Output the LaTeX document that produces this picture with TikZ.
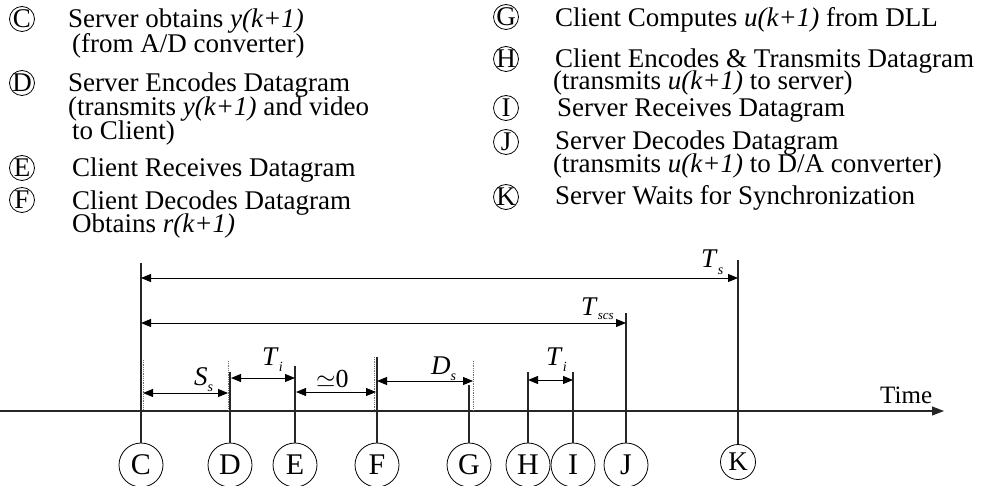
\documentclass[tikz,border=0pt]{standalone}
\usepackage{fontspec}
\setmainfont{Liberation Serif}
\usetikzlibrary{arrows.meta}
\newcommand{\sublab}[2]{\textit{#1}\raisebox{-6pt}{\fontsize{14}{14}\selectfont\textit{#2}}}
\begin{document}
\begin{tikzpicture}[x=1pt,y=-1pt,
  leg/.style={font=\fontsize{27}{27}\selectfont, anchor=base west, inner sep=0},
  lc/.style={draw, circle, minimum size=25pt, inner sep=-1pt, line width=0.8pt, font=\fontsize{27}{27}\selectfont},
  bc/.style={draw, circle, minimum size=44pt, inner sep=0, line width=0.8pt, font=\fontsize{30}{30}\selectfont},
  ln/.style={line width=1.1pt, black!85},
  dt/.style={line width=0.8pt, black!55, densely dotted},
  dimarr/.style={line width=1pt, {Triangle[length=10pt,width=8pt]}-{Triangle[length=10pt,width=8pt]}},
  lbl/.style={font=\fontsize{27}{27}\selectfont, anchor=base west, inner sep=0}
]
\useasboundingbox (0,0) rectangle (995,486);

% ---------- legend, left column
\node[lc] (lC) at (22,19) {C};
\node[leg] (tC1) at (68,28) {Server obtains \textit{y(k+1)}};
\node[leg] (tC2) at (72,53) {(from A/D converter)};
\node[lc] (lD) at (22,83) {D};
\node[leg] (tD1) at (68,92) {Server Encodes Datagram};
\node[leg] (tD2) at (68,116) {(transmits \textit{y(k+1)} and video};
\node[leg] (tD3) at (72,140) {to Client)};
\node[lc] (lE) at (22,168) {E};
\node[leg] (tE1) at (72,177) {Client Receives Datagram};
\node[lc] (lF) at (22,200) {F};
\node[leg] (tF1) at (72,210) {Client Decodes Datagram};
\node[leg] (tF2) at (72,233) {Obtains \textit{r(k+1)}};

% ---------- legend, right column
\node[lc] (lG) at (506,17) {G};
\node[leg] (tG1) at (555,27) {Client Computes \textit{u(k+1)} from DLL};
\node[lc] (lH) at (506,59) {H};
\node[leg] (tH1) at (555,68) {Client Encodes \& Transmits Datagram};
\node[leg] (tH2) at (553,90) {(transmits \textit{u(k+1)} to server)};
\node[lc] (lI) at (506,108) {I};
\node[leg] (tI1) at (557,117) {Server Receives Datagram};
\node[lc] (lJ) at (506,142) {J};
\node[leg] (tJ1) at (555,150) {Server Decodes Datagram};
\node[leg] (tJ2) at (553,173) {(transmits \textit{u(k+1)} to D/A converter)};
\node[lc] (lK) at (506,197) {K};
\node[leg] (tK1) at (555,205) {Server Waits for Synchronization};

% ---------- time axis
\coordinate (ax0) at (0,411);
\coordinate (ax1) at (944,411);
\draw[ln, -{Triangle[length=12pt,width=9pt]}] (ax0) -- (ax1);
\node[font=\fontsize{25}{25}\selectfont, anchor=base west, inner sep=0] (time) at (880,403) {Time};

% ---------- event circles
\node[bc] (C) at (141,465) {C};
\node[bc] (D) at (230,465) {D};
\node[bc] (E) at (295,465) {E};
\node[bc] (F) at (377,465) {F};
\node[bc] (G) at (469,465) {G};
\node[bc] (H) at (528,465) {H};
\node[bc] (I) at (573,465) {I};
\node[bc] (J) at (626,465) {J};
\node[draw, circle, minimum size=35pt, inner sep=0, line width=0.8pt, font=\fontsize{27}{27}\selectfont] (K) at (738,462) {K};

% ---------- vertical lines
\coordinate (Ct) at (141,263);
\coordinate (Dt) at (230,372);
\coordinate (Et) at (295,366);
\coordinate (Ft) at (377,357);
\coordinate (Gt) at (469,385);
\coordinate (Ht) at (528,372);
\coordinate (It) at (573,372);
\coordinate (Jt) at (626,313);
\coordinate (Kt) at (738,260);
\foreach \n in {C,D,E,F,G,H,I,J,K} \draw[ln] (\n t) -- (\n);

% dotted marks beside the lines
\coordinate (Cd0) at (143.5,360); \coordinate (Cd1) at (143.5,410);
\coordinate (Dd0) at (228,361);   \coordinate (Dd1) at (228,410);
\coordinate (Fd0) at (374.5,357); \coordinate (Fd1) at (374.5,410);
\coordinate (Gd0) at (473,361);   \coordinate (Gd1) at (473,410);
\draw[dt] (Cd0) -- (Cd1);
\draw[dt] (Dd0) -- (Dd1);
\draw[dt] (Fd0) -- (Fd1);
\draw[dt] (Gd0) -- (Gd1);

% ---------- dimension arrows
\coordinate (Ts0) at (141,278);  \coordinate (Ts1) at (738,278);
\coordinate (Tc0) at (141,323);  \coordinate (Tc1) at (626,323);
\coordinate (Ss0) at (143,393);  \coordinate (Ss1) at (228,393);
\coordinate (Ta0) at (231,378);  \coordinate (Ta1) at (295,378);
\coordinate (Z0)  at (296,392);  \coordinate (Z1)  at (376,392);
\coordinate (Ds0) at (377,381);  \coordinate (Ds1) at (473,381);
\coordinate (Tb0) at (528,380);  \coordinate (Tb1) at (573,380);
\draw[dimarr] (Ts0) -- (Ts1);
\draw[dimarr] (Tc0) -- (Tc1);
\draw[dimarr] (Ss0) -- (Ss1);
\draw[dimarr] (Ta0) -- (Ta1);
\draw[dimarr] (Z0) -- (Z1);
\draw[dimarr] (Ds0) -- (Ds1);
\draw[dimarr] (Tb0) -- (Tb1);

% ---------- labels
\node[lbl] (lTs) at (701,268) {\sublab{T}{s}};
\node[lbl] (lTc) at (581,315) {\textit{T}\raisebox{-4pt}{\fontsize{13}{13}\selectfont\textit{scs}}};
\node[lbl] (lSs) at (194,385) {\sublab{S}{s}};
\node[lbl] (lTa) at (262,365) {\sublab{T}{i}};
\node[lbl, font=\fontsize{26}{26}\selectfont] (lZ) at (316,387) {$\simeq$0};
\node[lbl] (lDs) at (431,374) {\sublab{D}{s}};
\node[lbl] (lTb) at (546,365) {\sublab{T}{i}};
\end{tikzpicture}
\end{document}
